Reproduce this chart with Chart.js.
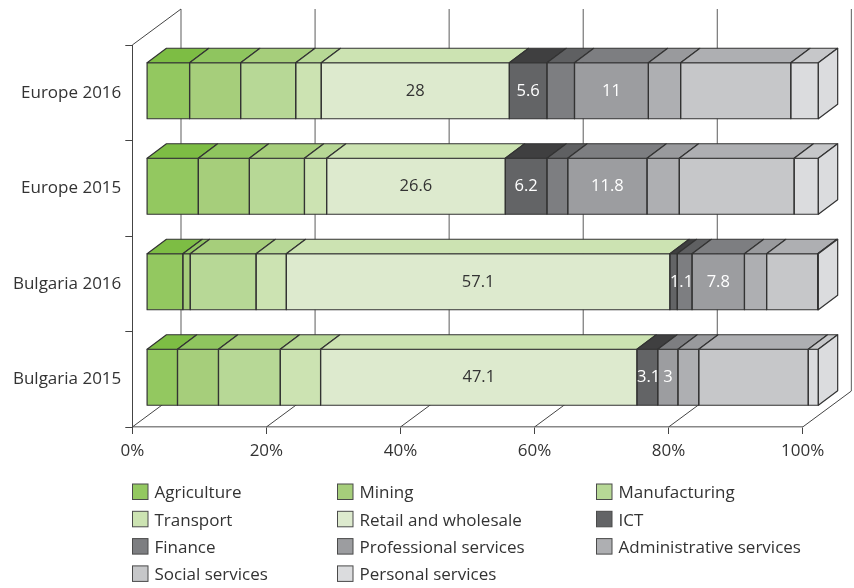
<!DOCTYPE html>
<html>
<head>
<meta charset="utf-8">
<style>html,body{margin:0;padding:0;background:#fff}canvas{display:block}</style>
<script src="https://cdn.jsdelivr.net/npm/chart.js@4"></script>
</head>
<body>
<canvas id="c" width="854" height="588"></canvas>
<script>
const categories = ['Europe 2016', 'Europe 2015', 'Bulgaria 2016', 'Bulgaria 2015'];
const tickValues = [0, 20, 40, 60, 80, 100];

const agriculture = [6.4, 7.7, 5.4, 4.6];
const mining = [7.6, 7.6, 1.1, 6.1];
const manufacturing = [8.2, 8.2, 9.8, 9.2];
const transport = [3.8, 3.3, 4.5, 6.0];
const retail = [28, 26.6, 57.1, 47.1];
const ict = [5.6, 6.2, 1.1, 3.1];
const finance = [4.1, 3.1, 2.2, 0];
const professional = [11, 11.8, 7.8, 3];
const administrative = [4.8, 4.8, 3.3, 3.1];
const social = [16.4, 17.1, 7.6, 16.3];
const personal = [4.1, 3.6, 0.1, 1.5];

const seriesNames = ['Agriculture', 'Mining', 'Manufacturing', 'Transport', 'Retail and wholesale', 'ICT', 'Finance', 'Professional services', 'Administrative services', 'Social services', 'Personal services'];
const seriesValues = [agriculture, mining, manufacturing, transport, retail, ict, finance, professional, administrative, social, personal];
const frontColors = ['#93C860', '#A6CE7B', '#B7D896', '#CCE3B2', '#DDEACE', '#636466', '#7D7E81', '#9C9DA0', '#AEAFB2', '#C6C7C9', '#DBDCDE'];
const topColors = ['#7DBD44', '#8FC55F', '#A6CE7B', '#B7D896', '#CCE3B2', '#3F3F40', '#5F6062', '#7D7E81', '#999A9D', '#AEAFB2', '#C6C7C9'];
const labelledSeries = {4: '#333333', 5: '#ffffff', 7: '#ffffff'};

const FONT = '"Open Sans"';
const TEXT = '#333333';
const EDGE = '#333333';
const WALL = {dx: 48.7, dy: 36};
const BAR_SHIFT = {dx: 14.3, dy: -2};
const BAR_STRETCH = 1.002;
const BAR_DEPTH = {dx: 19.3, dy: 14.5};

const scene3d = {
  id: 'scene3d',
  beforeDatasetsDraw(chart) {
    const {ctx, chartArea: a, scales: {x}} = chart;
    ctx.save();
    ctx.strokeStyle = '#777777';
    ctx.lineWidth = 1.2;
    tickValues.forEach(v => {
      const px = x.getPixelForValue(v);
      ctx.beginPath();
      ctx.moveTo(px + WALL.dx, a.top - WALL.dy);
      ctx.lineTo(px + WALL.dx, a.bottom - WALL.dy);
      ctx.stroke();
    });
    ctx.strokeStyle = '#444444';
    ctx.lineWidth = 1;
    tickValues.forEach(v => {
      const px = x.getPixelForValue(v);
      ctx.beginPath();
      ctx.moveTo(px, a.bottom);
      ctx.lineTo(px + WALL.dx, a.bottom - WALL.dy);
      ctx.stroke();
    });
    ctx.beginPath();
    ctx.moveTo(a.left, a.top);
    ctx.lineTo(a.left + WALL.dx, a.top - WALL.dy);
    ctx.stroke();
    ctx.restore();
    ctx.save();
    ctx.translate(a.left + BAR_SHIFT.dx, BAR_SHIFT.dy);
    ctx.scale(BAR_STRETCH, 1);
    ctx.translate(-a.left, 0);
  },
  afterDatasetsDraw(chart) {
    const {ctx} = chart;
    const lastIndex = chart.data.datasets.length - 1;
    ctx.strokeStyle = EDGE;
    ctx.lineWidth = 1.2;
    ctx.lineJoin = 'round';
    chart.data.datasets.forEach((ds, di) => {
      chart.getDatasetMeta(di).data.forEach(bar => {
        const {x: right, y, base: left, height} = bar.getProps(['x', 'y', 'base', 'height'], true);
        const top = y - height / 2;
        const bottom = y + height / 2;
        if (right - left > 0) {
          ctx.strokeRect(left, top, right - left, height);
          ctx.fillStyle = topColors[di];
          ctx.beginPath();
          ctx.moveTo(left, top);
          ctx.lineTo(left + BAR_DEPTH.dx, top - BAR_DEPTH.dy);
          ctx.lineTo(right + BAR_DEPTH.dx, top - BAR_DEPTH.dy);
          ctx.lineTo(right, top);
          ctx.closePath();
          ctx.fill();
          ctx.stroke();
        }
        if (di === lastIndex) {
          ctx.fillStyle = frontColors[di];
          ctx.beginPath();
          ctx.moveTo(right, top);
          ctx.lineTo(right + BAR_DEPTH.dx, top - BAR_DEPTH.dy);
          ctx.lineTo(right + BAR_DEPTH.dx, bottom - BAR_DEPTH.dy);
          ctx.lineTo(right, bottom);
          ctx.closePath();
          ctx.fill();
          ctx.stroke();
        }
      });
    });
    ctx.font = '16.5px ' + FONT;
    ctx.textBaseline = 'middle';
    Object.keys(labelledSeries).forEach(key => {
      const di = Number(key);
      ctx.fillStyle = labelledSeries[key];
      chart.getDatasetMeta(di).data.forEach((bar, i) => {
        const {x: right, y, base: left} = bar.getProps(['x', 'y', 'base'], true);
        const text = String(seriesValues[di][i]);
        const w = ctx.measureText(text).width;
        ctx.textAlign = 'left';
        const tx = w > right - left ? left : (left + right) / 2 - w / 2;
        ctx.fillText(text, tx, y + 0.5);
      });
    });
    ctx.restore();
  },
  afterDraw(chart) {
    const {ctx} = chart;
    const colX = [132.5, 337.5, 596.5];
    const textGap = 22;
    const rowY = 484;
    const rowPitch = 27.3;
    const box = 15.5;
    ctx.save();
    ctx.font = '17px ' + FONT;
    ctx.textAlign = 'left';
    ctx.textBaseline = 'middle';
    chart.data.datasets.forEach((ds, i) => {
      const cx = colX[i % 3];
      const cy = rowY + Math.floor(i / 3) * rowPitch;
      ctx.fillStyle = ds.backgroundColor;
      ctx.strokeStyle = '#4a4a4a';
      ctx.lineWidth = 1;
      ctx.fillRect(cx, cy, box, box);
      ctx.strokeRect(cx, cy, box, box);
      ctx.fillStyle = TEXT;
      ctx.fillText(ds.label, cx + textGap, cy + box / 2 + 1.7);
    });
    ctx.restore();
  }
};

new Chart(document.getElementById('c'), {
  type: 'bar',
  plugins: [scene3d],
  data: {
    labels: categories,
    datasets: seriesNames.map((name, i) => ({
      label: name,
      data: seriesValues[i],
      backgroundColor: frontColors[i],
      borderWidth: 0,
      clip: false,
      stack: 'share'
    }))
  },
  options: {
    indexAxis: 'y',
    responsive: false,
    animation: false,
    layout: {padding: {top: 45, right: 51.3, left: 0, bottom: 0}},
    plugins: {legend: {display: false}, tooltip: {enabled: false}},
    datasets: {bar: {barPercentage: 1, categoryPercentage: 0.586}},
    scales: {
      x: {
        type: 'linear',
        stacked: true,
        min: 0,
        max: 100,
        afterFit(s) { s.height = 161; },
        afterBuildTicks(s) { s.ticks = tickValues.map(v => ({value: v})); },
        border: {color: '#888888', width: 1.5},
        grid: {drawOnChartArea: false, color: '#444444', tickLength: 7, tickWidth: 1},
        ticks: {color: TEXT, font: {family: FONT, size: 17}, padding: 7, maxRotation: 0, callback: v => v + '%'}
      },
      y: {
        type: 'category',
        stacked: true,
        afterFit(s) { s.width = 132.3; },
        border: {color: '#444444', width: 1},
        grid: {drawOnChartArea: false, color: '#444444', tickLength: 7, tickWidth: 1},
        ticks: {color: TEXT, font: {family: FONT, size: 17}, padding: 4}
      }
    }
  }
});
</script>
</body>
</html>
